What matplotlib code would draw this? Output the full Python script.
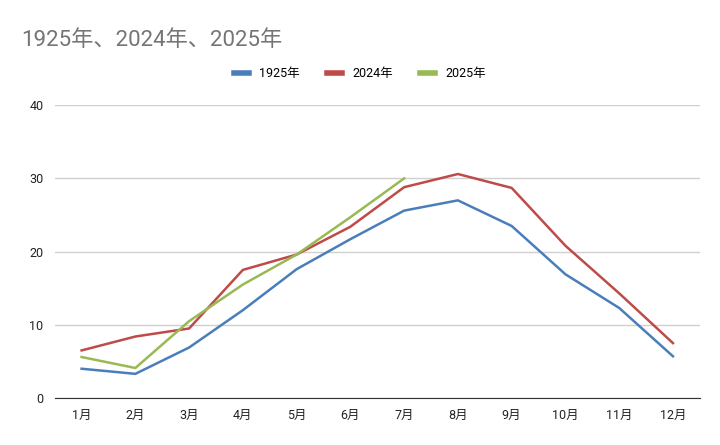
import matplotlib
matplotlib.use('Agg')
from matplotlib import pyplot as plt
import numpy as np

plt.rcParams['font.family'] = ['Roboto', 'Noto Sans CJK JP', 'DejaVu Sans']

# datos
meses = ['1月', '2月', '3月', '4月', '5月', '6月', '7月', '8月', '9月', '10月', '11月', '12月']
t1925 = [4.0, 3.3, 6.9, 12.0, 17.6, 21.7, 25.6, 27.0, 23.5, 16.9, 12.3, 5.7]
t2024 = [6.5, 8.4, 9.5, 17.5, 19.6, 23.4, 28.8, 30.6, 28.7, 20.8, 14.3, 7.5]
t2025 = [5.6, 4.1, 10.5, 15.5, 19.6, 24.7, 30.0]
series = ['1925年', '2024年', '2025年']
colores = ['#4a7ebb', '#be4b48', '#98b954']

fig = plt.figure(figsize=(7.2, 4.45), dpi=100)
ax = fig.add_axes([0.076, 0.1056, 0.896, 0.658])

x = np.arange(len(meses))
for datos, nombre, c in zip([t1925, t2024, t2025], series, colores):
  ax.plot(x[:len(datos)], datos, color=c, lw=1.8, label=nombre)

ax.set_xlim(-0.5, 11.5)
ax.set_ylim(0, 40)
ax.set_yticks([0, 10, 20, 30, 40])
ax.set_xticks(x)
ax.set_xticklabels(meses)
ax.grid(axis='y', color='#d0d0d0', lw=1)
ax.set_axisbelow(True)
for s in ['top', 'right', 'left']:
  ax.spines[s].set_visible(False)
ax.spines['bottom'].set_color('#333333')
ax.tick_params(length=0, labelsize=9, colors='#222222', pad=8)

fig.text(0.03, 0.91, '1925年、2024年、2025年', fontsize=16, color='#757575', va='center')
fig.legend(loc='center', bbox_to_anchor=(0.5, 0.835), ncol=3, frameon=False,
           fontsize=9, handlelength=1.2, columnspacing=2.2, handletextpad=0.8)
for l in fig.legends[0].get_lines():
  l.set_linewidth(4)

fig.savefig('out.png', dpi=100)
